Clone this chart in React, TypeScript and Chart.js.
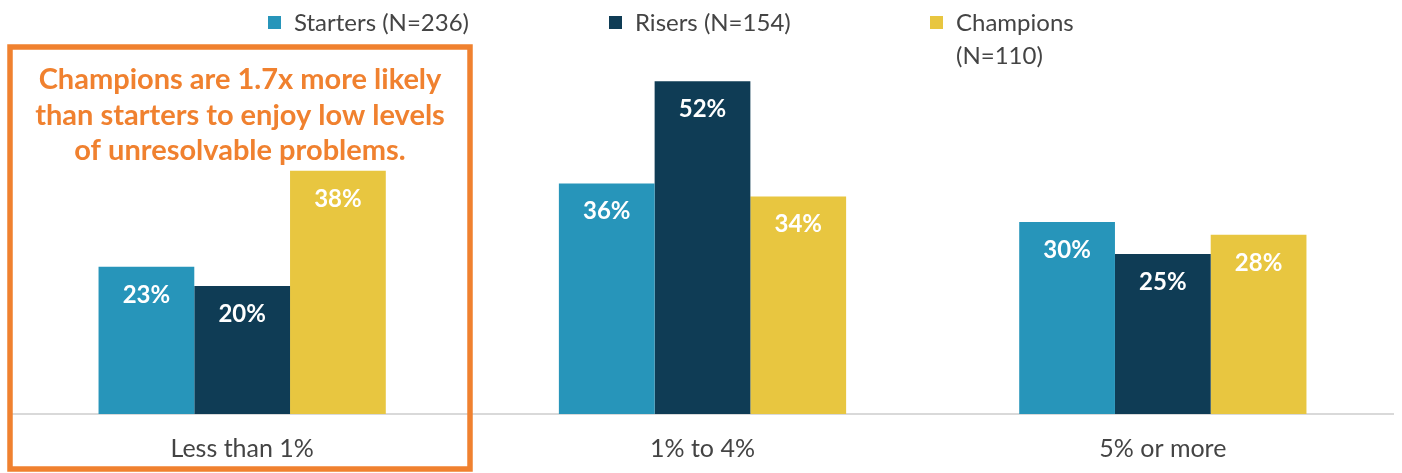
import React, { useEffect, useRef } from "react";
import { Chart, registerables } from "chart.js";

Chart.register(...registerables);

const categories = ["Less than 1%", "1% to 4%", "5% or more"];
const seriesNames = ["Starters (N=236)", "Risers (N=154)", "Champions (N=110)"];
const starters = [23, 36, 30];
const risers = [20, 52, 25];
const champions = [38, 34, 28];
const colors = ["#2795BA", "#0F3C55", "#E8C640"];
const calloutLines = [
  "Champions are 1.7x more likely",
  "than starters to enjoy low levels",
  "of unresolvable problems.",
];

const FONT = "Lato, 'Noto Sans', sans-serif";

export default function App() {
  const ref = useRef<HTMLCanvasElement | null>(null);

  useEffect(() => {
    if (!ref.current) return;

    const labelsPlugin = {
      id: "labelsPlugin",
      afterDatasetsDraw(chart: any) {
        const ctx = chart.ctx;
        ctx.save();
        ctx.fillStyle = "#ffffff";
        ctx.font = `bold 24px ${FONT}`;
        ctx.textAlign = "center";
        ctx.textBaseline = "middle";
        chart.data.datasets.forEach((ds: any, i: number) => {
          const meta = chart.getDatasetMeta(i);
          meta.data.forEach((bar: any, j: number) => {
            ctx.fillText(ds.data[j] + "%", bar.x, bar.y + 28);
          });
        });
        ctx.restore();
      },
      afterDraw(chart: any) {
        const ctx = chart.ctx;
        ctx.save();
        // legend
        const legendX = [268, 609, 930];
        ctx.font = `24px ${FONT}`;
        ctx.textBaseline = "middle";
        ctx.textAlign = "left";
        seriesNames.forEach((name, i) => {
          ctx.fillStyle = colors[i];
          ctx.fillRect(legendX[i], 16, 13, 13);
          ctx.fillStyle = "#444444";
          const tx = legendX[i] + 26;
          if (i === 2) {
            ctx.fillText("Champions", tx, 23);
            ctx.fillText("(N=110)", tx, 56);
          } else {
            ctx.fillText(name, tx, 23);
          }
        });
        // callout box
        ctx.strokeStyle = "#F0812F";
        ctx.lineWidth = 5.5;
        ctx.strokeRect(10, 47, 460, 422);
        ctx.fillStyle = "#F0812F";
        ctx.font = `bold 29px ${FONT}`;
        ctx.textAlign = "center";
        calloutLines.forEach((line, i) => {
          ctx.fillText(line, 240, 80 + i * 35.5);
        });
        ctx.restore();
      },
    };

    const chart = new Chart(ref.current, {
      type: "bar",
      data: {
        labels: categories,
        datasets: [
          { label: seriesNames[0], data: starters, backgroundColor: colors[0] },
          { label: seriesNames[1], data: risers, backgroundColor: colors[1] },
          { label: seriesNames[2], data: champions, backgroundColor: colors[2] },
        ],
      },
      options: {
        responsive: false,
        animation: false,
        layout: { padding: { top: 30, left: 12, right: 9, bottom: 0 } },
        plugins: { legend: { display: false }, tooltip: { enabled: false } },
        datasets: { bar: { barPercentage: 1, categoryPercentage: 0.624 } },
        scales: {
          x: {
            grid: { display: false, drawTicks: false },
            border: { display: true, color: "#d9d9d9", width: 2 },
            ticks: {
              color: "#444444",
              font: { family: FONT, size: 25 },
              padding: 20,
            },
            afterFit: (s: any) => {
              s.height = 59;
            },
          },
          y: { display: false, min: 0, max: 60 },
        },
      },
      plugins: [labelsPlugin],
    });
    return () => chart.destroy();
  }, []);

  return (
    <div style={{ position: "fixed", left: 0, top: 0, width: 1402, height: 473, background: "#fff" }}>
      <canvas ref={ref} width={1402} height={473} />
    </div>
  );
}
